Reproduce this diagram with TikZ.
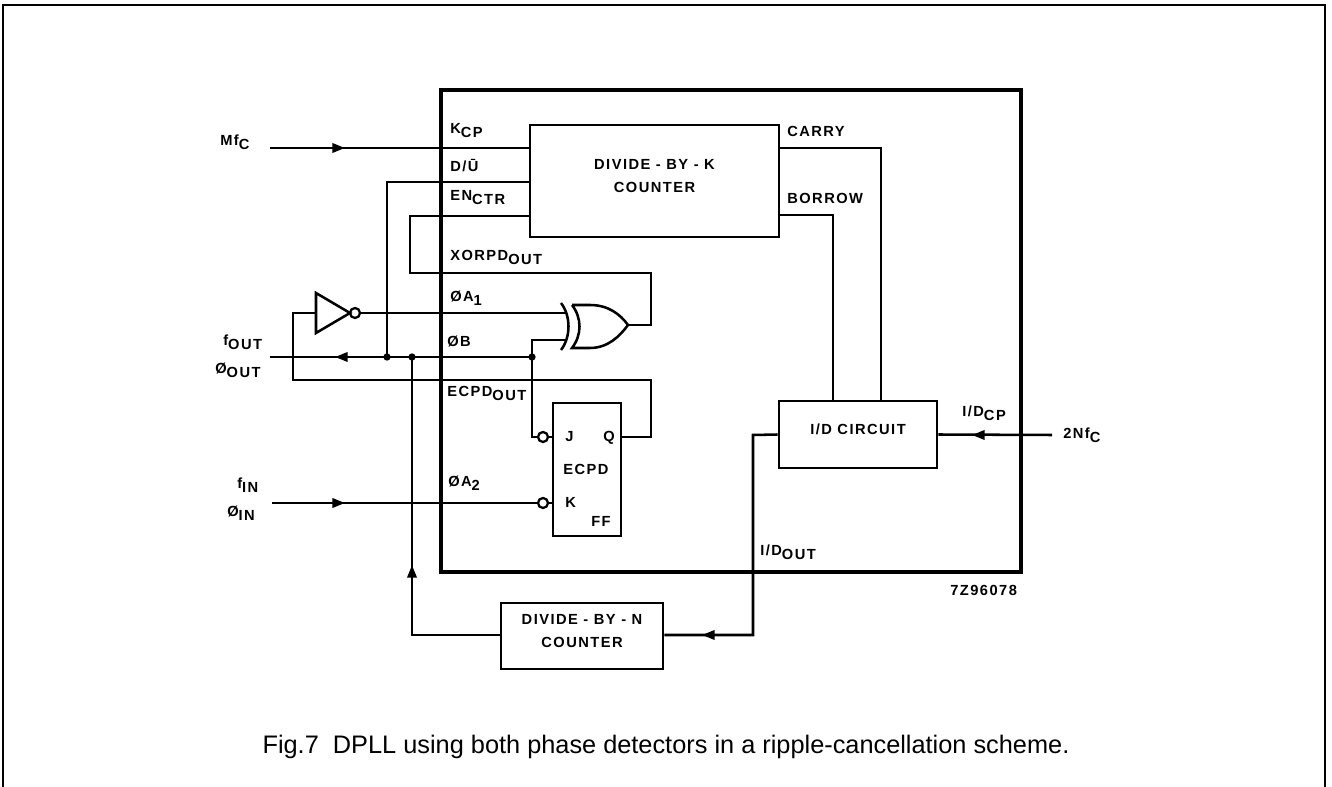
\documentclass[tikz,border=0pt]{standalone}
\usepackage{fontspec}
\setmainfont{Liberation Sans}
\newfontfamily\lblf[LetterSpace=10]{Liberation Sans}
\usetikzlibrary{arrows.meta,fit}
\newcommand\sbs[1]{\raisebox{-0.45ex}{#1}}
\begin{document}
\begin{tikzpicture}[x=0.75pt,y=-0.75pt,
 wire/.style={line width=1.9pt},
 block/.style={draw,line width=2.2pt,inner sep=0pt,font=\lblf\bfseries\fontsize{11}{17}\selectfont,align=center},
 lbl/.style={inner sep=0pt,anchor=base west,font=\lblf\bfseries\fontsize{11}{12}\selectfont},
 arr/.style={wire,-{Triangle[length=9.5pt,width=7pt]}},
 dot/.style={circle,fill,inner sep=0pt,minimum size=5.5pt},
 bub/.style={circle,draw,line width=1.7pt,fill=white,inner sep=0pt,minimum size=7.5pt}]
\useasboundingbox (0,0) rectangle (1332,787);
% outer frame
\draw[line width=1.5pt] (3,787) -- (3,5) -- (1325,5) -- (1325,787);
% chip
\node[draw,line width=2.4pt,inner sep=0pt,fit={(441,90)(1021,572)}] (chip) {};
% blocks
\node[block,fit={(530,125)(779,237)}] (divk) {DIVIDE - BY - K\\COUNTER};
\node[block,fit={(779,401)(937,468)}] (idc) {I/D CIRCUIT};
\node[block,fit={(501,603)(663,669)}] (divn) {DIVIDE - BY - N\\COUNTER};
\node[block,fit={(553,403)(621,536)}] (ff) {};
% pin labels
\node[lbl] at (220,146) {Mf\sbs{C}};
\node[lbl] at (450,134) {K\sbs{CP}};
\node[lbl] at (450,172) {D/Ū};
\node[lbl] at (450,201) {EN\sbs{CTR}};
\node[lbl] at (450,261) {XORPD\sbs{OUT}};
\node[lbl] at (450,302) {ØA\sbs{1}};
\node[lbl] at (447,347) {ØB};
\node[lbl] at (447,397) {ECPD\sbs{OUT}};
\node[lbl] at (448,487) {ØA\sbs{2}};
\node[lbl] at (223,346) {f\sbs{OUT}};
\node[lbl] at (215,374) {Ø\sbs{OUT}};
\node[lbl] at (237,489) {f\sbs{IN}};
\node[lbl] at (227,517) {Ø\sbs{IN}};
\node[lbl] at (787,137) {CARRY};
\node[lbl] at (787,204) {BORROW};
\node[lbl] at (962,417) {I/D\sbs{CP}};
\node[lbl] at (1063,439) {2Nf\sbs{C}};
\node[lbl] at (760,556) {I/D\sbs{OUT}};
\node[lbl] at (950,596) {7Z96078};
\node[lbl] at (565,442) {J};
\node[lbl] at (603,442) {Q};
\node[lbl] at (563,475) {ECPD};
\node[lbl] at (565,508) {K};
\node[lbl] at (591,527) {FF};
% coordinates
\coordinate (mfc) at (270,148);
\coordinate (fout) at (270,357);
\coordinate (fin) at (272,503);
\coordinate (nfc) at (1052,435);
\coordinate (xorA) at (566,313);
\coordinate (xorB) at (566,340);
\coordinate (xorO) at (628,325);
\node[dot] (d1) at (387,357) {};
\node[dot] (d2) at (412,357) {};
\node[dot] (d3) at (532,357) {};
\node[bub] (bj) at (543,437) {};
\node[bub] (bk) at (543,503) {};
\node[bub] (invb) at (355,313) {};
% XOR gate
\draw[wire] (572,305) -- (590,305) .. controls (608,305) and (620,314) .. (xorO)
  .. controls (620,336) and (608,348) .. (590,348) -- (572,348)
  .. controls (582,335) and (582,318) .. (572,305);
\draw[wire] (561,303) .. controls (571,316) and (571,337) .. (561,350);
% inverter
\draw[wire] (316,293) -- (350,313) -- (316,333) -- cycle;
% wires
\draw[wire] (mfc) -- (divk.west |- mfc);
\draw[arr] (mfc) -- (345,148);
\draw[wire] (d1.center) -- (387,182) -- (divk.west |- 0,182);
\draw[wire] (xorO) -- (651,325) -- (651,273) -- (410,273) -- (410,216) -- (divk.west |- 0,216);
\draw[wire] (ff.east |- bj) -- (651,437) -- (651,380) -- (293,380) -- (293,313) -- (316,313);
\draw[wire] (invb.east) -- (xorA);
\draw[wire] (d3.center) -- (fout);
\draw[arr] (d1.center) -- (335,357);
\draw[wire] (d3.center) -- (532,340) -- (xorB);
\draw[wire] (d3.center) -- (532,437) -- (bj.west);
\draw[wire] (bj.east) -- (ff.west |- bj);
\draw[wire] (fin) -- (bk.west);
\draw[arr] (fin) -- (345,503);
\draw[wire] (bk.east) -- (ff.west |- bk);
\draw[wire] (divn.west |- 0,635) -- (412,635) -- (d2.center);
\draw[arr] (412,635) -- (412,565);
\draw[wire] (idc.west) -- (753,435) -- (753,635) -- (divn.east |- 0,635);
\draw[arr] (753,635) -- (702,635);
\draw[wire] (nfc) -- (idc.east);
\draw[arr] (nfc) -- (972,435);
\draw[wire] (divk.east |- 0,148) -- (881,148) -- (881,401);
\draw[wire] (divk.east |- 0,215) -- (833,215) -- (833,401);
% caption
\node[inner sep=0pt,anchor=base,font=\fontsize{19}{22}\selectfont] (cap) at (666,753) {Fig.7\ \ DPLL using both phase detectors in a ripple-cancellation scheme.};
\end{tikzpicture}
\end{document}
